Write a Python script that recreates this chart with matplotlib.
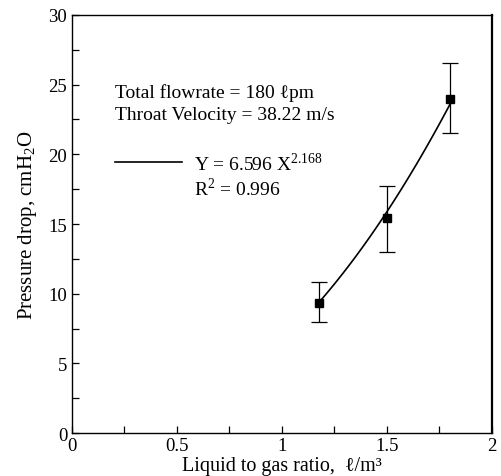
import numpy as np
import matplotlib; matplotlib.use("Agg")
import matplotlib.pyplot as plt
from matplotlib.ticker import MultipleLocator

plt.rcParams['font.family'] = ['Liberation Serif', 'DejaVu Serif']
plt.rcParams['mathtext.fontset'] = 'custom'
plt.rcParams['mathtext.rm'] = 'Liberation Serif'

# ── Data ──────────────────────────────────────────────────────────────────
lg_ratio  = [1.175, 1.50, 1.80]          # l/m3
dp_mean   = [9.35, 15.4, 24.0]           # cmH2O
dp_low    = [7.95, 13.0, 21.5]
dp_high   = [10.85, 17.7, 26.55]
fit_a, fit_b = 6.596, 2.168              # Y = a X^b (stated on chart)

xe = np.array(lg_ratio)
ye = np.array(dp_mean)
yerr = [ye - np.array(dp_low), np.array(dp_high) - ye]

fig = plt.figure(figsize=(5.02, 4.77), dpi=100)
ax = fig.add_axes([0.1434, 0.0901, 0.8366, 0.8764])

xf = np.linspace(xe[0], xe[-1], 100)
ax.plot(xf, fit_a * xf ** fit_b, color="black", lw=1.2)
ax.errorbar(xe, ye, yerr=yerr, fmt="s", color="black", ms=6,
            ecolor="black", elinewidth=0.9, capsize=5.5, capthick=0.9)

ax.set_xlim(0, 2); ax.set_ylim(0, 30)
ax.xaxis.set_major_locator(MultipleLocator(0.5))
ax.xaxis.set_minor_locator(MultipleLocator(0.25))
ax.yaxis.set_major_locator(MultipleLocator(5))
ax.yaxis.set_minor_locator(MultipleLocator(2.5))
ax.xaxis.set_major_formatter(plt.FuncFormatter(lambda v, p: f"{v:g}"))
ax.yaxis.set_major_formatter(plt.FuncFormatter(lambda v, p: f"{v:g}"))
ax.tick_params(which="both", direction="in", length=5, width=0.9,
               top=False, right=False, labelsize=13.5)
ax.tick_params(axis="x", pad=3)
for s in ax.spines.values():
    s.set_linewidth(1.0)
ax.spines["right"].set_linewidth(1.6)

ax.set_xlabel("Liquid to gas ratio,  \u2113/m\u00b3", fontsize=14.5, labelpad=1)
ax.set_ylabel("Pressure drop, cmH$_2$O", fontsize=15, labelpad=7)

ax.text(0.103, 0.816, "Total flowrate = 180 \u2113pm", transform=ax.transAxes,
        fontsize=14, va="center")
ax.text(0.103, 0.763, "Throat Velocity = 38.22 m/s", transform=ax.transAxes,
        fontsize=14, va="center")
ax.plot([0.103, 0.263], [0.648, 0.648], color="black", lw=1.2,
        transform=ax.transAxes)
ax.text(0.29, 0.646, f"Y = {fit_a} X$^{{{fit_b}}}$", transform=ax.transAxes,
        fontsize=14, va="center")
ax.text(0.29, 0.586, "R$^2$ = 0.996", transform=ax.transAxes,
        fontsize=14, va="center")

fig.savefig("out.png", dpi=100)
